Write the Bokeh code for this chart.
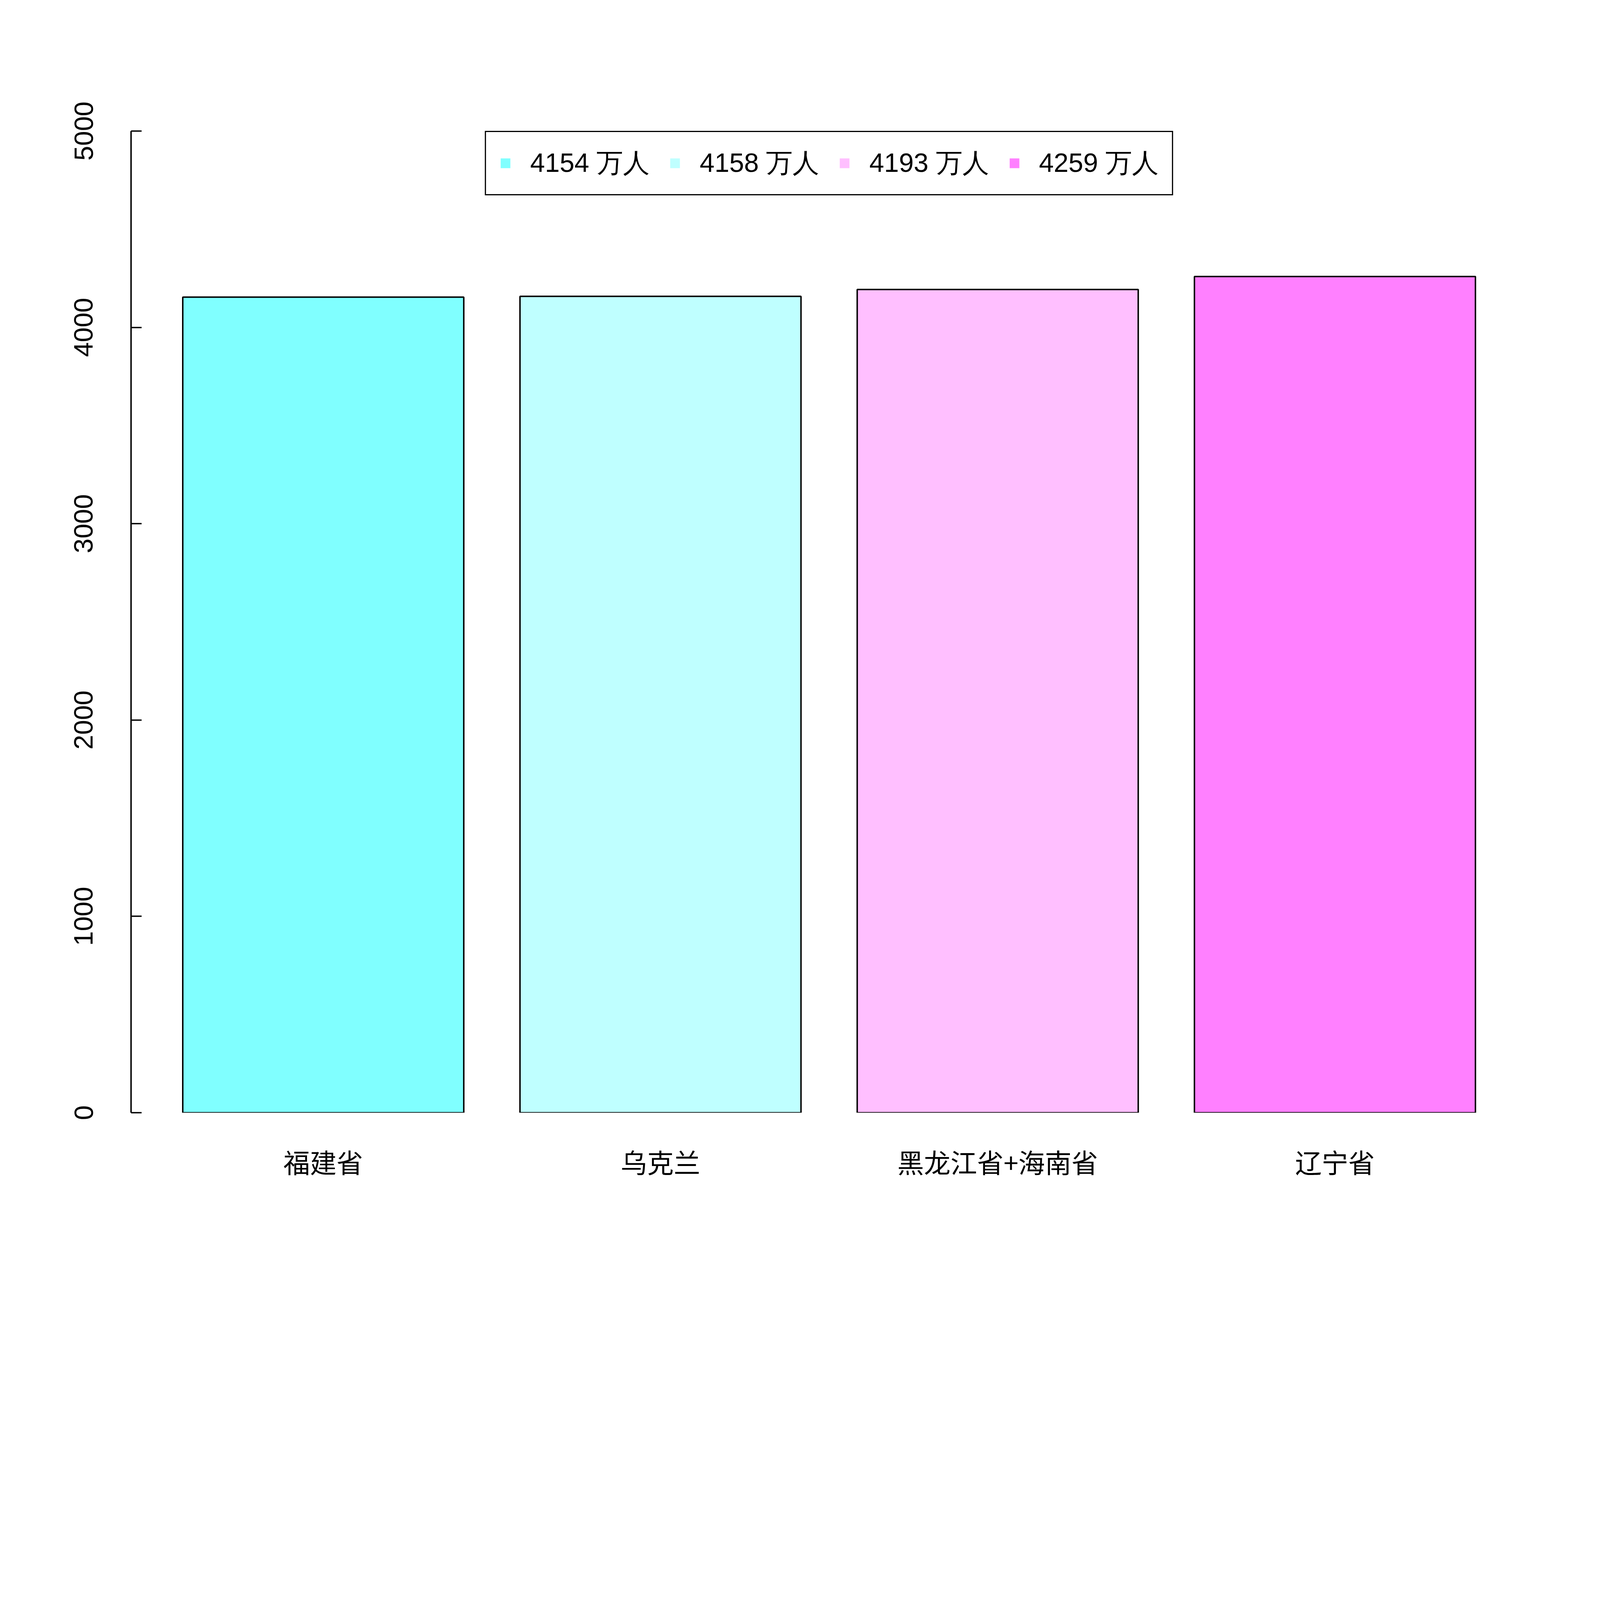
from bokeh.plotting import figure
from bokeh.models import (FactorRange, Range1d, FixedTicker, Legend, LegendItem,
                          ColumnDataSource)
from bokeh.embed import file_html
from bokeh.resources import INLINE

# ---- data ----
categories = ["福建省", "乌克兰", "黑龙江省+海南省", "辽宁省"]
values = [4154, 4158, 4193, 4259]
colors = ["#80FFFF", "#BFFFFF", "#FFBFFF", "#FF80FF"]
y_ticks = [0, 1000, 2000, 3000, 4000, 5000]
unit = "万人"
legend_labels = [f"{v} {unit}" for v in values]

# ---- layout (reference pixels scaled by K) ----
K = 0.68
W, H = int(6000 * K), int(4800 * K)
LW = 5.5 * K
FS = f"{round(100 * K)}px"

source = ColumnDataSource(dict(cat=categories, val=values, color=colors))

p = figure(width=W, height=H, output_backend="svg", toolbar_location=None,
           x_range=FactorRange(factors=categories, factor_padding=0.2,
                               range_padding=0.184, range_padding_units="absolute"),
           y_range=Range1d(0, 5000),
           min_border_left=round(492 * K), min_border_right=round(252 * K),
           min_border_top=round(492 * K), min_border_bottom=round(612 * K))
p.outline_line_color = None
p.background_fill_color = "white"
p.border_fill_color = "white"
p.xgrid.visible = False
p.ygrid.visible = False

fill_r = p.vbar(x="cat", top="val", bottom=0, width=1.0, source=source,
                fill_color="color", line_color=None)
p.vbar(x="cat", top="val", bottom=0, width=1.0, source=source,
       fill_color=None, line_color="black", line_width=LW)

# y axis
yax = p.yaxis[0]
yax.ticker = FixedTicker(ticks=y_ticks)
yax.major_tick_in = round(40 * K)
yax.major_tick_out = 0
yax.minor_tick_line_color = None
yax.axis_line_width = LW
yax.major_tick_line_width = LW
yax.axis_line_color = "black"
yax.major_tick_line_color = "black"
yax.major_label_orientation = "vertical"
yax.major_label_text_font = "Liberation Sans"
yax.major_label_text_font_size = FS
yax.major_label_text_color = "black"
yax.major_label_standoff = round(144 * K)

# x axis
xax = p.xaxis[0]
xax.axis_line_color = None
xax.major_tick_line_color = None
xax.minor_tick_line_color = None
xax.major_label_text_font = "Noto Sans CJK SC"
xax.major_label_text_font_size = FS
xax.major_label_text_color = "black"
xax.major_label_standoff = round(102 * K)

items = [LegendItem(label=lab, renderers=[fill_r], index=i)
         for i, lab in enumerate(legend_labels)]
legend = Legend(items=items, orientation="horizontal", location="top_center",
                margin=0, padding=round(50 * K), spacing=round(72 * K),
                glyph_width=round(46 * K), glyph_height=round(46 * K),
                label_standoff=round(70 * K), label_text_font="Liberation Sans",
                label_text_font_size=FS, label_text_color="black",
                border_line_color="black", border_line_width=LW, border_line_alpha=1.0,
                background_fill_color="white", background_fill_alpha=1.0)
p.add_layout(legend, "center")

open("out.html", "w").write(file_html(p, INLINE))
